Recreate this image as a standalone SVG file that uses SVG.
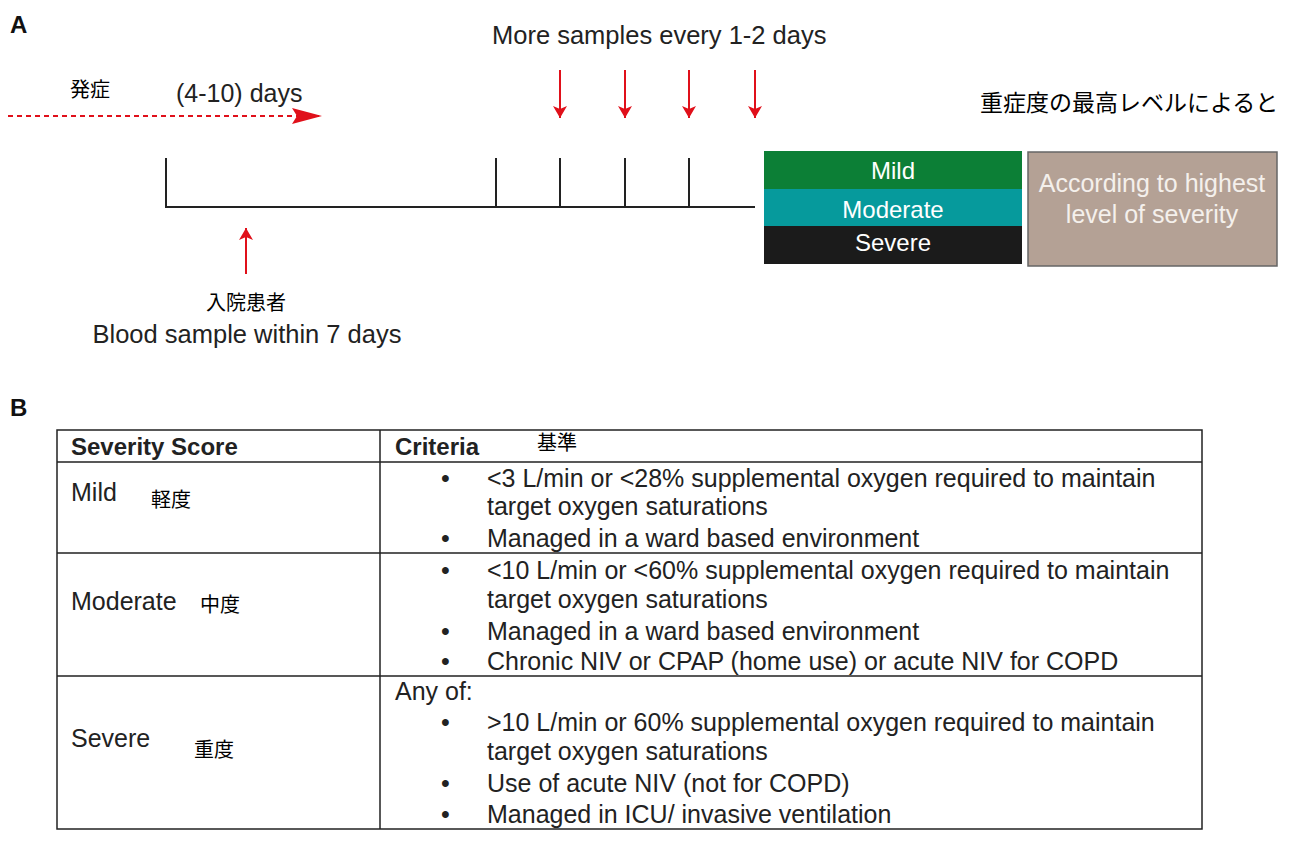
<svg xmlns="http://www.w3.org/2000/svg" width="1296" height="852" viewBox="0 0 1296 852">
<style>
text{font-family:"Liberation Sans",Arial,"Noto Sans CJK JP",sans-serif;fill:#222;}
.t{font-size:25px;}
.j{font-size:20px;fill:#000;}
.w{fill:#fff;font-size:24px;text-anchor:middle;}
.ln{stroke:#222;stroke-width:2;fill:none;}
.tb{stroke:#222;stroke-width:1.5;fill:none;}
.red{stroke:#e0101a;stroke-width:2;fill:none;}
</style>
<defs>
<marker id="ah" viewBox="0 0 12 14" refX="12" refY="7" markerWidth="12" markerHeight="14" markerUnits="userSpaceOnUse" orient="auto"><path d="M0,0L12,7L0,14L3,7z" fill="#e0101a"/></marker>
<marker id="big" viewBox="0 0 30 16" refX="30" refY="8" markerWidth="30" markerHeight="16" markerUnits="userSpaceOnUse" orient="auto"><path d="M0,0L30,8L0,16L5,8z" fill="#e0101a"/></marker>
</defs>
<text x="10" y="33" style="font-size:24px;font-weight:bold;fill:#111">A</text>
<text x="10" y="416" style="font-size:24px;font-weight:bold;fill:#111">B</text>
<g id="connectors">
<path class="red" d="M8,116H322" stroke-dasharray="5,4" stroke-width="2.5" marker-end="url(#big)"/>
<path class="red" d="M560,70V118" marker-end="url(#ah)"/>
<path class="red" d="M625,70V118" marker-end="url(#ah)"/>
<path class="red" d="M689,70V118" marker-end="url(#ah)"/>
<path class="red" d="M755,70V118" marker-end="url(#ah)"/>
<path class="red" d="M246,274V228" marker-end="url(#ah)"/>
</g>
<g id="timeline">
<path class="ln" d="M166,158V207H755M496,158V207M560,158V207M625,158V207M689,158V207"/>
</g>
<text x="70" y="97" class="j">発症</text>
<text x="176" y="102" style="font-size:25px">(4-10) days</text>
<text x="492" y="44" style="font-size:25.5px">More samples every 1-2 days</text>
<text x="980" y="111" style="font-size:23px;fill:#000">重症度の最高レベルによると</text>
<text x="246" y="310" class="j" text-anchor="middle">入院患者</text>
<text x="247" y="343" style="font-size:25.5px" text-anchor="middle">Blood sample within 7 days</text>
<g id="severity">
<rect x="764" y="151" width="258" height="38" fill="#0c7f36"/>
<rect x="764" y="189" width="258" height="37" fill="#069a9c"/>
<rect x="764" y="226" width="258" height="38" fill="#1b1b1b"/>
<text x="893" y="179" class="w">Mild</text>
<text x="893" y="218" class="w">Moderate</text>
<text x="893" y="251" class="w">Severe</text>
</g>
<g id="according">
<rect x="1028" y="152" width="249" height="114" fill="#b4a195" stroke="#666" stroke-width="1.5"/>
<text x="1152" y="192" class="w" style="fill:#f4f0ec;font-size:25px">According to highest</text>
<text x="1152" y="223" class="w" style="fill:#f4f0ec;font-size:25px">level of severity</text>
</g>
<g id="table">
<rect class="tb" x="57" y="430" width="1145" height="399"/>
<path class="tb" d="M380,430V829M57,462H1202M57,553H1202M57,676H1202"/>
<text x="71" y="455" class="t" style="font-weight:bold;font-size:24px">Severity Score</text>
<text x="395" y="455" class="t" style="font-weight:bold;font-size:24px">Criteria</text>
<text x="537" y="450" class="j">基準</text>
<text x="71" y="501" class="t">Mild</text><text x="151" y="507" class="j">軽度</text>
<text x="71" y="610" class="t">Moderate</text><text x="200" y="612" class="j">中度</text>
<text x="71" y="747" class="t">Severe</text><text x="194" y="757" class="j">重度</text>
<g class="t">
<text x="441" y="487">•</text><text x="487" y="487">&lt;3 L/min or &lt;28% supplemental oxygen required to maintain</text>
<text x="487" y="515">target oxygen saturations</text>
<text x="441" y="547">•</text><text x="487" y="547">Managed in a ward based environment</text>
<text x="441" y="579">•</text><text x="487" y="579">&lt;10 L/min or &lt;60% supplemental oxygen required to maintain</text>
<text x="487" y="608">target oxygen saturations</text>
<text x="441" y="640">•</text><text x="487" y="640">Managed in a ward based environment</text>
<text x="441" y="670">•</text><text x="487" y="670">Chronic NIV or CPAP  (home use) or acute NIV for COPD</text>
<text x="395" y="700">Any of:</text>
<text x="441" y="731">•</text><text x="487" y="731">&gt;10 L/min or 60% supplemental oxygen required to maintain</text>
<text x="487" y="760">target oxygen saturations</text>
<text x="441" y="792">•</text><text x="487" y="792">Use of acute NIV (not for COPD)</text>
<text x="441" y="823">•</text><text x="487" y="823">Managed in ICU/ invasive ventilation</text>
</g>
</g>
</svg>
